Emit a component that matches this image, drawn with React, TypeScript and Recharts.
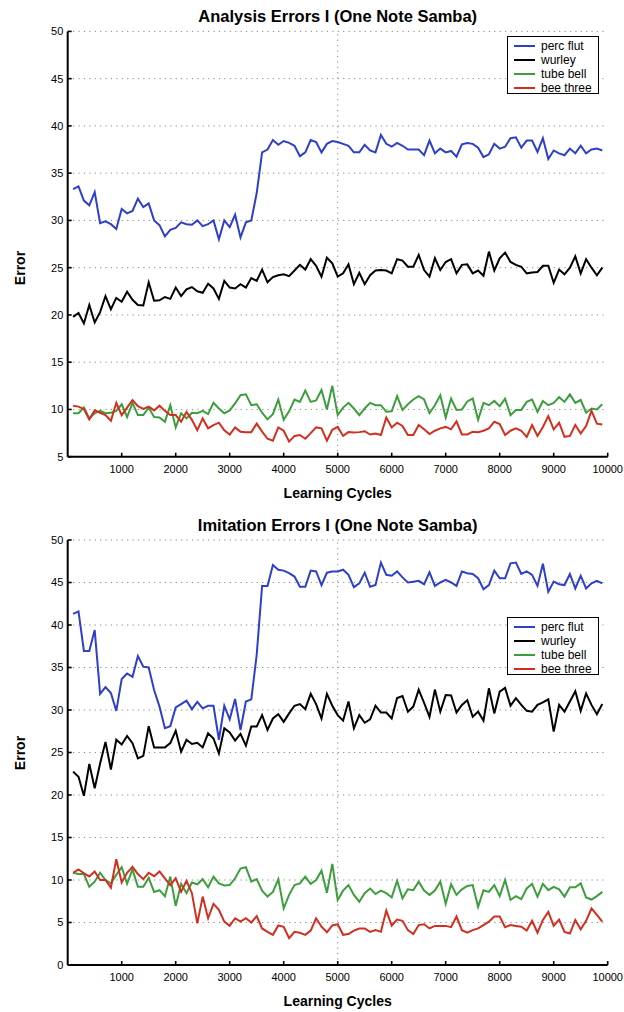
import React from 'react';
import { LineChart, Line, XAxis, YAxis, CartesianGrid, ReferenceLine } from 'recharts';

// Learning cycle at which each error sample was taken
const cycles = [
  100, 200, 300, 400, 500, 600, 700, 800, 900, 1000,
  1100, 1200, 1300, 1400, 1500, 1600, 1700, 1800, 1900, 2000,
  2100, 2200, 2300, 2400, 2500, 2600, 2700, 2800, 2900, 3000,
  3100, 3200, 3300, 3400, 3500, 3600, 3700, 3800, 3900, 4000,
  4100, 4200, 4300, 4400, 4500, 4600, 4700, 4800, 4900, 5000,
  5100, 5200, 5300, 5400, 5500, 5600, 5700, 5800, 5900, 6000,
  6100, 6200, 6300, 6400, 6500, 6600, 6700, 6800, 6900, 7000,
  7100, 7200, 7300, 7400, 7500, 7600, 7700, 7800, 7900, 8000,
  8100, 8200, 8300, 8400, 8500, 8600, 8700, 8800, 8900, 9000,
  9100, 9200, 9300, 9400, 9500, 9600, 9700, 9800, 9900,
];

const xTicks = [1000, 2000, 3000, 4000, 5000, 6000, 7000, 8000, 9000, 10000];
const analysisYTicks = [5, 10, 15, 20, 25, 30, 35, 40, 45, 50];
const imitationYTicks = [0, 5, 10, 15, 20, 25, 30, 35, 40, 45, 50];

const seriesNames = ['perc flut', 'wurley', 'tube bell', 'bee three'];
const seriesColors = ['#2e3fc9', '#000000', '#3d9e3d', '#d12f1f'];

// Analysis errors
const analysisPercFlut = [
  33.3, 33.6, 32.1, 31.6, 33.0, 29.7, 29.9, 29.6, 29.1, 31.2,
  30.75, 31.0, 32.3, 31.4, 31.8, 30.0, 29.5, 28.3, 29.0, 29.2,
  29.8, 29.6, 29.55, 30.0, 29.4, 29.6, 30.0, 28.0, 30.0, 29.3,
  30.6, 28.2, 29.8, 30.0, 32.9, 37.2, 37.5, 38.5, 38.0, 38.4,
  38.2, 37.9, 36.8, 37.2, 38.5, 38.3, 37.2, 38.1, 38.4, 38.3,
  38.1, 37.9, 37.2, 37.2, 38.0, 37.4, 37.2, 39.05, 38.1, 37.8,
  38.2, 37.9, 37.5, 37.5, 37.5, 36.9, 38.45, 37.1, 37.6, 37.2,
  37.35, 36.75, 38.05, 38.2, 38.1, 37.7, 36.7, 37.0, 38.1, 37.6,
  37.8, 38.7, 38.8, 37.7, 38.45, 38.45, 37.25, 38.7, 36.5, 37.4,
  37.1, 36.9, 37.6, 37.1, 37.9, 37.1, 37.5, 37.6, 37.4,
];
const analysisWurley = [
  19.8, 20.2, 19.1, 21.05, 19.2, 20.3, 22.0, 20.6, 21.8, 21.4,
  22.45, 21.6, 21.05, 21.0, 23.45, 21.5, 21.55, 21.9, 21.7, 22.9,
  22.0, 22.7, 22.95, 22.5, 22.35, 23.3, 22.8, 21.7, 23.6, 22.9,
  22.8, 23.25, 22.9, 23.9, 23.6, 24.8, 23.45, 24.0, 24.2, 24.3,
  24.1, 24.7, 25.3, 24.8, 25.9, 25.2, 24.05, 26.05, 25.45, 24.05,
  24.4, 25.35, 23.25, 24.45, 23.25, 24.2, 24.7, 24.75, 24.7, 24.4,
  25.9, 25.75, 25.1, 25.1, 26.35, 24.75, 24.05, 26.0, 24.75, 25.6,
  25.9, 24.4, 25.3, 25.35, 24.4, 24.7, 24.15, 26.7, 24.7, 26.0,
  26.6, 25.6, 25.3, 25.1, 24.4, 24.5, 24.55, 25.2, 25.2, 23.4,
  24.8, 24.3, 25.0, 26.2, 24.4, 25.9, 25.0, 24.2, 25.0,
];
const analysisTubeBell = [
  9.6, 9.6, 10.2, 9.05, 9.6, 9.85, 9.6, 9.65, 9.85, 10.55,
  9.2, 10.7, 9.4, 9.4, 10.2, 9.2, 9.15, 8.7, 10.45, 8.1,
  9.6, 9.05, 9.65, 9.6, 9.85, 9.5, 10.7, 10.1, 9.6, 9.9,
  10.65, 11.5, 11.6, 10.45, 10.55, 9.65, 8.95, 9.5, 11.05, 8.9,
  9.8, 11.05, 10.8, 12.0, 10.8, 10.95, 12.05, 10.0, 12.5, 9.4,
  10.2, 10.7, 10.1, 9.4, 10.1, 10.7, 10.45, 10.45, 9.75, 9.8,
  11.4, 9.95, 10.55, 11.05, 11.4, 11.05, 9.6, 10.45, 11.5, 9.15,
  11.15, 9.95, 10.0, 10.85, 11.15, 8.9, 10.7, 10.45, 10.9, 10.35,
  11.15, 9.4, 9.95, 9.95, 10.8, 11.05, 9.75, 10.9, 10.45, 10.7,
  11.3, 10.8, 11.6, 10.7, 11.0, 9.65, 10.1, 10.0, 10.55,
];
const analysisBeeThree = [
  10.4, 10.3, 10.05, 8.95, 9.9, 9.65, 9.4, 8.8, 10.7, 9.4,
  10.2, 11.0, 10.35, 10.05, 10.3, 9.9, 10.4, 9.85, 9.4, 9.4,
  8.7, 9.75, 8.9, 7.8, 9.05, 8.0, 8.35, 8.6, 7.8, 7.35,
  8.1, 7.65, 7.6, 7.6, 8.5, 7.65, 6.9, 6.7, 8.1, 7.75,
  6.6, 7.2, 7.3, 6.9, 7.5, 8.1, 8.0, 6.7, 7.85, 8.15,
  7.2, 7.6, 7.55, 7.6, 7.7, 7.35, 7.45, 7.3, 9.15, 8.1,
  8.6, 8.25, 7.3, 7.3, 8.35, 7.9, 7.4, 7.75, 8.0, 8.15,
  7.9, 8.75, 7.35, 7.35, 7.65, 7.6, 7.75, 8.0, 8.7, 8.45,
  7.3, 7.75, 8.0, 7.75, 7.1, 8.35, 7.2, 8.15, 9.3, 7.9,
  8.6, 7.1, 7.2, 8.35, 7.45, 8.25, 9.85, 8.5, 8.4,
];

// Imitation errors
const imitationPercFlut = [
  41.3, 41.6, 36.95, 36.95, 39.4, 31.9, 32.7, 32.0, 29.9, 33.65,
  34.3, 33.9, 36.35, 35.1, 35.0, 32.35, 30.4, 27.85, 28.1, 30.3,
  30.7, 31.1, 30.1, 30.95, 30.2, 30.5, 30.5, 26.5, 30.5, 28.9,
  31.3, 27.65, 31.0, 31.25, 36.5, 44.6, 44.6, 47.05, 46.5, 46.4,
  46.1, 45.7, 44.5, 44.5, 46.4, 46.3, 44.7, 46.15, 46.3, 46.3,
  46.5, 45.9, 44.45, 44.9, 46.15, 44.5, 44.7, 47.35, 45.9, 45.8,
  46.3, 45.6, 45.0, 45.1, 45.2, 44.8, 46.2, 44.6, 45.0, 45.3,
  45.0, 44.6, 46.3, 46.1, 46.0, 45.5, 44.2, 44.7, 46.4, 45.5,
  45.5, 47.25, 47.35, 46.0, 46.3, 45.9, 44.6, 47.2, 43.9, 45.1,
  44.8, 44.7, 46.0, 44.3, 45.8, 44.3, 44.9, 45.2, 44.9,
];
const imitationWurley = [
  22.75, 22.15, 19.9, 23.65, 20.8, 23.7, 26.25, 23.0, 26.5, 25.95,
  26.95, 26.1, 24.3, 24.6, 28.1, 25.6, 25.6, 25.6, 26.1, 27.55,
  25.1, 26.5, 26.0, 26.15, 25.6, 27.25, 26.65, 24.9, 27.85, 27.35,
  26.4, 27.2, 25.8, 28.05, 28.05, 29.4, 27.65, 29.0, 29.5, 28.6,
  29.6, 30.5, 30.7, 30.1, 31.9, 30.7, 29.0, 31.9, 30.5, 29.4,
  28.75, 31.0, 27.85, 29.4, 28.5, 28.9, 30.5, 29.7, 29.7, 29.0,
  31.4, 31.65, 29.8, 30.4, 32.4, 30.85, 29.2, 32.4, 29.8, 31.75,
  31.7, 29.7, 30.6, 31.15, 29.2, 29.8, 28.75, 32.55, 29.6, 32.15,
  32.6, 30.5, 31.4, 30.6, 29.9, 29.8, 30.6, 30.9, 31.25, 27.45,
  30.6, 29.8, 31.0, 32.2, 29.9, 31.95, 30.6, 29.5, 30.7,
];
const imitationTubeBell = [
  10.85, 10.7, 10.7, 9.2, 9.8, 10.85, 10.0, 9.6, 10.6, 11.5,
  9.55, 11.25, 9.2, 9.2, 10.25, 8.6, 8.8, 8.1, 10.4, 6.95,
  9.55, 8.45, 9.7, 9.5, 10.1, 9.15, 10.4, 9.6, 9.35, 9.4,
  10.2, 11.35, 11.5, 9.8, 10.1, 8.75, 8.05, 8.6, 10.1, 6.65,
  8.25, 9.4, 9.6, 10.4, 9.55, 10.0, 11.1, 8.5, 11.9, 7.65,
  8.75, 9.4, 8.25, 7.45, 8.45, 9.0, 8.35, 8.75, 8.45, 7.95,
  9.9, 7.85, 8.9, 8.8, 9.8, 8.75, 8.25, 8.75, 9.8, 7.2,
  9.5, 8.25, 8.9, 9.3, 9.4, 6.85, 8.8, 8.6, 9.4, 8.1,
  10.0, 7.65, 8.1, 7.75, 9.0, 9.55, 8.05, 9.55, 8.8, 9.2,
  8.9, 8.05, 9.15, 9.15, 9.6, 7.95, 7.7, 8.1, 8.6,
];
const imitationBeeThree = [
  10.85, 11.25, 10.8, 10.4, 11.0, 10.0, 10.0, 9.1, 12.45, 9.7,
  10.85, 11.55, 10.7, 10.1, 10.85, 10.45, 11.0, 10.2, 9.4, 10.2,
  8.6, 9.9, 8.45, 4.9, 8.05, 5.5, 7.2, 6.5, 5.1, 4.6,
  5.5, 5.1, 5.5, 5.0, 5.75, 4.3, 3.9, 3.55, 4.65, 4.5,
  3.15, 3.9, 3.8, 3.55, 4.05, 5.5, 4.5, 3.85, 4.65, 4.8,
  3.55, 3.65, 4.05, 4.3, 4.3, 3.9, 4.1, 3.9, 6.4, 4.65,
  5.35, 5.2, 4.1, 3.65, 4.7, 4.8, 4.3, 4.6, 4.6, 4.6,
  4.45, 5.7, 4.1, 3.8, 4.1, 4.3, 4.7, 5.1, 5.7, 5.7,
  4.45, 4.7, 4.6, 4.5, 4.05, 5.2, 3.8, 5.3, 6.25, 4.6,
  5.35, 3.9, 3.7, 5.3, 4.2, 5.2, 6.65, 5.9, 5.1,
];

const FONT = '"Liberation Sans", Arial, Helvetica, sans-serif';
const CHART_W = 624;
const PLOT_LEFT = 67.7;
const PLOT_RIGHT = 607.7;
const SERIES_KEYS = ['percFlut', 'wurley', 'tubeBell', 'beeThree'];

function buildRows(series: number[][]) {
  return cycles.map((cycle, i) => {
    const row: Record<string, number> = { cycle };
    SERIES_KEYS.forEach((key, s) => {
      row[key] = series[s][i];
    });
    return row;
  });
}

const analysisRows = buildRows([analysisPercFlut, analysisWurley, analysisTubeBell, analysisBeeThree]);
const imitationRows = buildRows([imitationPercFlut, imitationWurley, imitationTubeBell, imitationBeeThree]);

// Ticks point inward, as in a classic plotting package
const XTick = (props: any) => {
  const { x, y, payload } = props;
  return (
    <g>
      <line x1={x} x2={x} y1={y} y2={y - 4} stroke="#000" strokeWidth={1.6} />
      <text x={x} y={y + 16.3} textAnchor="middle" fontSize={11} fontFamily={FONT} fill="#000">
        {payload.value}
      </text>
    </g>
  );
};

const YTick = (props: any) => {
  const { x, y, payload } = props;
  return (
    <g>
      <line x1={x} x2={x + 4} y1={y} y2={y} stroke="#000" strokeWidth={1.6} />
      <text x={x - 4.4} y={y} dy="0.36em" textAnchor="end" fontSize={11} fontFamily={FONT} fill="#000">
        {payload.value}
      </text>
    </g>
  );
};

type PanelProps = {
  top: number;
  height: number;
  plotTop: number;
  plotHeight: number;
  title: string;
  yDomain: [number, number];
  yTicks: number[];
  rows: Record<string, number>[];
  legendTop: number;
  yLabelCenter: number;
};

function SeriesKey({ top }: { top: number }) {
  return (
    <div
      style={{
        position: 'absolute',
        left: 507,
        top,
        width: 92,
        height: 58,
        border: '1px solid #000',
        background: '#fff',
        boxSizing: 'border-box',
      }}
    >
      {seriesNames.map((name, i) => (
        <div key={name} style={{ position: 'absolute', left: 0, top: 2 + i * 14, height: 14, width: 92 }}>
          <svg width={30} height={14} style={{ position: 'absolute', left: 0, top: 0 }}>
            <line x1={6} x2={27} y1={7} y2={7} stroke={seriesColors[i]} strokeWidth={2} />
          </svg>
          <div
            style={{
              position: 'absolute',
              left: 33,
              top: 0,
              fontFamily: FONT,
              fontSize: 12,
              lineHeight: '14px',
              color: '#000',
              whiteSpace: 'nowrap',
            }}
          >
            {name}
          </div>
        </div>
      ))}
    </div>
  );
}

function Panel({ top, height, plotTop, plotHeight, title, yDomain, yTicks, rows, legendTop, yLabelCenter }: PanelProps) {
  const plotBottom = plotTop + plotHeight;
  const plotCenterX = (PLOT_LEFT + PLOT_RIGHT) / 2;
  return (
    <div style={{ position: 'absolute', left: 0, top, width: CHART_W, height }}>
      <LineChart
        width={CHART_W}
        height={height}
        data={rows}
        margin={{ top: plotTop, right: CHART_W - PLOT_RIGHT, bottom: 0, left: 0 }}
      >
        <CartesianGrid vertical={false} stroke="#888" strokeDasharray="1.2 4.2" />
        <ReferenceLine x={5000} stroke="#888" strokeDasharray="1.2 4.2" />
        <XAxis
          dataKey="cycle"
          type="number"
          domain={[0, 10000]}
          ticks={xTicks}
          interval={0}
          height={height - plotBottom}
          tickSize={0}
          tickMargin={0}
          tick={XTick}
          axisLine={{ stroke: '#000', strokeWidth: 2 }}
        />
        <YAxis
          type="number"
          domain={yDomain}
          ticks={yTicks}
          interval={0}
          width={PLOT_LEFT}
          tickSize={0}
          tickMargin={0}
          tick={YTick}
          axisLine={{ stroke: '#000', strokeWidth: 2 }}
        />
        {SERIES_KEYS.map((key, i) => (
          <Line
            key={key}
            dataKey={key}
            name={seriesNames[i]}
            stroke={seriesColors[i]}
            strokeWidth={2}
            dot={false}
            activeDot={false}
            isAnimationActive={false}
          />
        ))}
      </LineChart>
      <div
        style={{
          position: 'absolute',
          left: plotCenterX - 250,
          width: 500,
          top: plotTop - 23.4,
          textAlign: 'center',
          fontFamily: FONT,
          fontWeight: 'bold',
          fontSize: 16.5,
          lineHeight: '16.5px',
          whiteSpace: 'nowrap',
        }}
      >
        {title}
      </div>
      <div
        style={{
          position: 'absolute',
          left: plotCenterX - 150,
          width: 300,
          top: plotBottom + 29,
          textAlign: 'center',
          fontFamily: FONT,
          fontWeight: 'bold',
          fontSize: 14,
          lineHeight: '14px',
        }}
      >
        Learning Cycles
      </div>
      <div
        style={{
          position: 'absolute',
          left: 20 - 40,
          width: 80,
          top: yLabelCenter - 7,
          height: 14,
          textAlign: 'center',
          fontFamily: FONT,
          fontWeight: 'bold',
          fontSize: 14,
          lineHeight: '14px',
          transform: 'rotate(-90deg)',
        }}
      >
        Error
      </div>
      <SeriesKey top={legendTop} />
    </div>
  );
}

export default function App() {
  return (
    <div style={{ position: 'absolute', left: 0, top: 0, width: 624, height: 1012, background: '#fff' }}>
      <Panel
        top={0}
        height={505}
        plotTop={31.4}
        plotHeight={425.3}
        title="Analysis Errors I (One Note Samba)"
        yDomain={[5, 50]}
        yTicks={analysisYTicks}
        rows={analysisRows}
        legendTop={36}
        yLabelCenter={268}
      />
      <Panel
        top={505}
        height={507}
        plotTop={35}
        plotHeight={425}
        title="Imitation Errors I (One Note Samba)"
        yDomain={[0, 50]}
        yTicks={imitationYTicks}
        rows={imitationRows}
        legendTop={111.7}
        yLabelCenter={247.5}
      />
    </div>
  );
}
